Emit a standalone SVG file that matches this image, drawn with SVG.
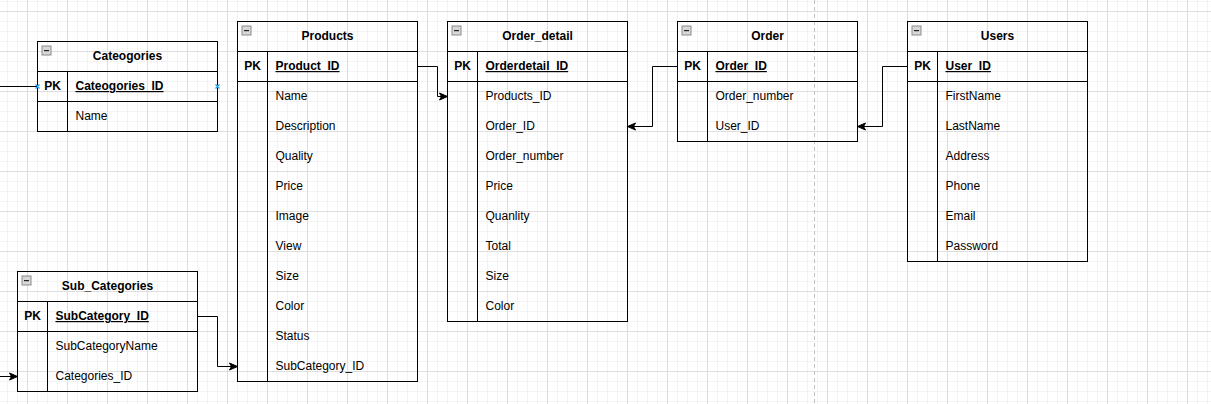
<svg xmlns="http://www.w3.org/2000/svg" width="1211" height="404" viewBox="0 0 1211 404">
<defs>
<pattern id="grid" x="27" y="11" width="40" height="40" patternUnits="userSpaceOnUse">
<rect x="10" y="0" width="1" height="40" fill="#f3f3f3"/>
<rect x="20" y="0" width="1" height="40" fill="#f3f3f3"/>
<rect x="30" y="0" width="1" height="40" fill="#f3f3f3"/>
<rect x="0" y="10" width="40" height="1" fill="#f3f3f3"/>
<rect x="0" y="20" width="40" height="1" fill="#f3f3f3"/>
<rect x="0" y="30" width="40" height="1" fill="#f3f3f3"/>
<rect x="0" y="0" width="1" height="40" fill="#dedede"/>
<rect x="0" y="0" width="40" height="1" fill="#dedede"/>
</pattern>
<marker id="arr" markerUnits="userSpaceOnUse" markerWidth="10" markerHeight="9" refX="8" refY="3.5" orient="auto" overflow="visible">
<path d="M0,0 L8,3.5 L0,7 L2,3.5 Z" fill="#000" stroke="#000" stroke-width="1"/>
</marker>
<g id="collapse">
<rect x="0" y="0" width="9" height="9" fill="#d8d8d8" stroke="#8c8c8c" stroke-width="1"/>
<rect x="2" y="4" width="5" height="1.2" fill="#222"/>
</g>
</defs>
<style>
.tb{fill:none;stroke:#000;stroke-width:1}
.ln{stroke:#000;stroke-width:1;fill:none}
.t{font-family:"Liberation Sans",Arial,sans-serif;font-size:12px;fill:#000}
.h{font-weight:bold;text-anchor:middle}
.pk{font-weight:bold;text-anchor:middle}
.pkf{font-weight:bold;text-decoration:underline}
.con{stroke:#000;stroke-width:1;fill:none}
.cp{stroke:#1ea0e6;stroke-width:1.3}
</style>
<rect width="1211" height="404" fill="#fff"/>
<rect width="1211" height="404" fill="url(#grid)"/>
<line x1="814.5" y1="0" x2="814.5" y2="404" stroke="#c4c4c4" stroke-width="1" stroke-dasharray="4,3"/>

<g id="connectors">
<path class="con" d="M0,86.5 L37.5,86.5"/>
<path class="con" d="M0,376.5 L17.5,376.5" marker-end="url(#arr)"/>
<path class="con" d="M197.5,316.5 L217.5,316.5 L217.5,366.5 L237.5,366.5" marker-end="url(#arr)"/>
<path class="con" d="M417.5,66.5 L437.5,66.5 L437.5,96.5 L447.5,96.5" marker-end="url(#arr)"/>
<path class="con" d="M677.5,66.5 L652.5,66.5 L652.5,126.5 L627.5,126.5" marker-end="url(#arr)"/>
<path class="con" d="M907.5,66.5 L882.5,66.5 L882.5,126.5 L857.5,126.5" marker-end="url(#arr)"/>
</g>

<g id="cateogories">
<rect class="tb" x="37.5" y="41.5" width="180" height="90"/>
<path class="ln" d="M37.5,71.5 H217.5 M37.5,101.5 H217.5 M67.5,71.5 V131.5"/>
<use href="#collapse" x="42" y="46"/>
<text class="t h" x="127.5" y="60">Cateogories</text>
<text class="t pk" x="52.5" y="90">PK</text>
<text class="t pkf" x="75.5" y="90">Cateogories_ID</text>
<text class="t" x="75.5" y="120">Name</text>
<path class="cp" d="M35.5,84.5 L39.5,88.5 M39.5,84.5 L35.5,88.5 M215.5,84.5 L219.5,88.5 M219.5,84.5 L215.5,88.5"/>
</g>

<g id="products">
<rect class="tb" x="237.5" y="21.5" width="180" height="360"/>
<path class="ln" d="M237.5,51.5 H417.5 M237.5,81.5 H417.5 M267.5,51.5 V381.5"/>
<use href="#collapse" x="242" y="26"/>
<text class="t h" x="327.5" y="40">Products</text>
<text class="t pk" x="252.5" y="70">PK</text>
<text class="t pkf" x="275.5" y="70">Product_ID</text>
<text class="t" x="275.5" y="100">Name</text>
<text class="t" x="275.5" y="130">Description</text>
<text class="t" x="275.5" y="160">Quality</text>
<text class="t" x="275.5" y="190">Price</text>
<text class="t" x="275.5" y="220">Image</text>
<text class="t" x="275.5" y="250">View</text>
<text class="t" x="275.5" y="280">Size</text>
<text class="t" x="275.5" y="310">Color</text>
<text class="t" x="275.5" y="340">Status</text>
<text class="t" x="275.5" y="370">SubCategory_ID</text>
</g>

<g id="order_detail">
<rect class="tb" x="447.5" y="21.5" width="180" height="300"/>
<path class="ln" d="M447.5,51.5 H627.5 M447.5,81.5 H627.5 M477.5,51.5 V321.5"/>
<use href="#collapse" x="452" y="26"/>
<text class="t h" x="537.5" y="40">Order_detail</text>
<text class="t pk" x="462.5" y="70">PK</text>
<text class="t pkf" x="485.5" y="70">Orderdetail_ID</text>
<text class="t" x="485.5" y="100">Products_ID</text>
<text class="t" x="485.5" y="130">Order_ID</text>
<text class="t" x="485.5" y="160">Order_number</text>
<text class="t" x="485.5" y="190">Price</text>
<text class="t" x="485.5" y="220">Quanlity</text>
<text class="t" x="485.5" y="250">Total</text>
<text class="t" x="485.5" y="280">Size</text>
<text class="t" x="485.5" y="310">Color</text>
</g>

<g id="order">
<rect class="tb" x="677.5" y="21.5" width="180" height="120"/>
<path class="ln" d="M677.5,51.5 H857.5 M677.5,81.5 H857.5 M707.5,51.5 V141.5"/>
<use href="#collapse" x="682" y="26"/>
<text class="t h" x="767.5" y="40">Order</text>
<text class="t pk" x="692.5" y="70">PK</text>
<text class="t pkf" x="715.5" y="70">Order_ID</text>
<text class="t" x="715.5" y="100">Order_number</text>
<text class="t" x="715.5" y="130">User_ID</text>
</g>

<g id="users">
<rect class="tb" x="907.5" y="21.5" width="180" height="240"/>
<path class="ln" d="M907.5,51.5 H1087.5 M907.5,81.5 H1087.5 M937.5,51.5 V261.5"/>
<use href="#collapse" x="912" y="26"/>
<text class="t h" x="997.5" y="40">Users</text>
<text class="t pk" x="922.5" y="70">PK</text>
<text class="t pkf" x="945.5" y="70">User_ID</text>
<text class="t" x="945.5" y="100">FirstName</text>
<text class="t" x="945.5" y="130">LastName</text>
<text class="t" x="945.5" y="160">Address</text>
<text class="t" x="945.5" y="190">Phone</text>
<text class="t" x="945.5" y="220">Email</text>
<text class="t" x="945.5" y="250">Password</text>
</g>

<g id="sub_categories">
<rect class="tb" x="17.5" y="271.5" width="180" height="120"/>
<path class="ln" d="M17.5,301.5 H197.5 M17.5,331.5 H197.5 M47.5,301.5 V391.5"/>
<use href="#collapse" x="22" y="276"/>
<text class="t h" x="107.5" y="290">Sub_Categories</text>
<text class="t pk" x="32.5" y="320">PK</text>
<text class="t pkf" x="55.5" y="320">SubCategory_ID</text>
<text class="t" x="55.5" y="350">SubCategoryName</text>
<text class="t" x="55.5" y="380">Categories_ID</text>
</g>
</svg>
